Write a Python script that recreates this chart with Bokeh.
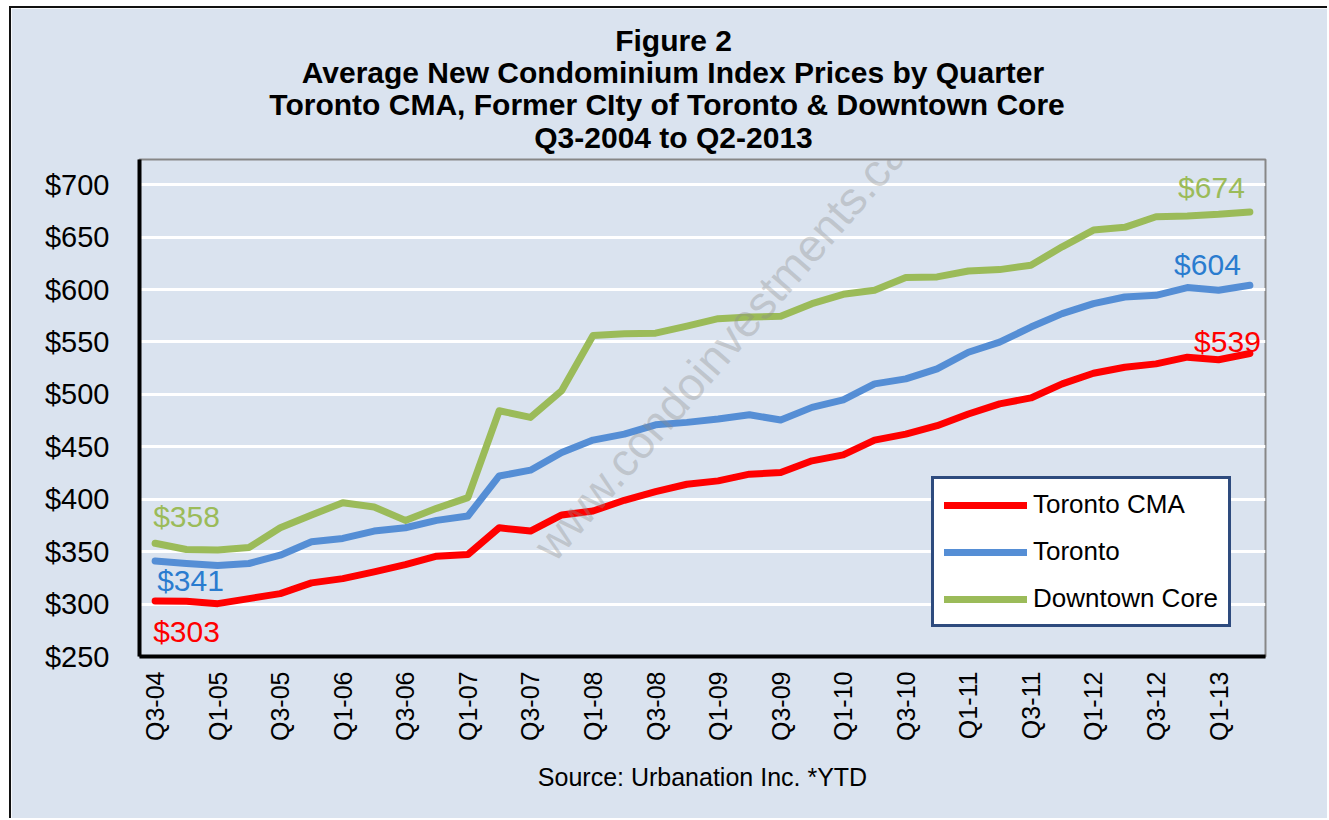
import math
from bokeh.plotting import figure
from bokeh.models import (Range1d, FixedTicker, PrintfTickFormatter, Label, Legend,
                          LegendItem, ColumnDataSource, Title)
from bokeh.core.properties import value
from bokeh.embed import file_html
from bokeh.resources import INLINE

# ---------------- data ----------------
quarters = ["Q3-04", "Q4-04", "Q1-05", "Q2-05", "Q3-05", "Q4-05", "Q1-06", "Q2-06",
            "Q3-06", "Q4-06", "Q1-07", "Q2-07", "Q3-07", "Q4-07", "Q1-08", "Q2-08",
            "Q3-08", "Q4-08", "Q1-09", "Q2-09", "Q3-09", "Q4-09", "Q1-10", "Q2-10",
            "Q3-10", "Q4-10", "Q1-11", "Q2-11", "Q3-11", "Q4-11", "Q1-12", "Q2-12",
            "Q3-12", "Q4-12", "Q1-13", "Q2-13"]

toronto_cma = [303, 302.6, 300.4, 305.2, 310.0, 320.2, 324.3, 330.7, 337.7, 345.7,
               347.3, 372.8, 369.6, 385.0, 388.8, 399.0, 407.2, 414.3, 417.5, 423.9,
               425.4, 436.6, 442.3, 456.4, 462.1, 470.1, 481.3, 490.9, 496.6, 510.0,
               520.1, 525.9, 529.1, 535.5, 533.0, 539]

toronto = [341, 338.7, 336.8, 338.7, 346.6, 359.4, 362.6, 369.6, 372.8, 379.8,
           384.0, 422.2, 427.7, 444.6, 456.4, 462.1, 471.0, 473.3, 476.5, 480.6,
           475.5, 487.6, 494.7, 510.0, 514.8, 524.3, 540.2, 549.8, 564.2, 577.0,
           586.5, 592.9, 594.5, 601.9, 599.3, 604]

downtown_core = [358, 352.0, 351.5, 354.0, 372.8, 385.0, 396.7, 392.6, 379.8, 391.3,
                 401.5, 484.4, 478.0, 503.6, 556.2, 557.8, 558.4, 565.1, 572.2, 573.7,
                 574.4, 586.5, 595.4, 599.3, 611.4, 612.0, 617.7, 619.0, 623.2, 640.7,
                 656.7, 659.3, 669.4, 670.1, 671.7, 674]

series_names = ["Toronto CMA", "Toronto", "Downtown Core"]
y_ticks = [250, 300, 350, 400, 450, 500, 550, 600, 650, 700]

title_lines = ["Figure 2",
               "Average New Condominium Index Prices by Quarter",
               "Toronto CMA,  Former CIty of Toronto & Downtown Core",
               "Q3-2004 to Q2-2013"]
source_text = "Source: Urbanation Inc. *YTD"
watermark = "www.condoinvestments.ca"

# ---------------- styling ----------------
RED = "#FF0000"
BLUE = "#558ED5"
GREEN = "#9BBB59"
BLUE_TXT = "#2A7CCF"
BG = "#DAE3EF"
FONT = "Liberation Sans"
TITLE_PX = 30
# per-line standoffs, nearest-to-frame line first (tuned so lines sit 32px apart)
TITLE_STANDOFFS = [11, -15, 9, -15]

# Arial-bold advance widths (Liberation Sans is metric compatible), 1/1000 em
_BOLD_W = {" ": 278, ",": 278, "-": 333, "&": 722, "0": 556, "1": 556, "2": 556,
           "3": 556, "4": 556, "5": 556, "6": 556, "7": 556, "8": 556, "9": 556,
           "A": 722, "C": 722, "D": 722, "F": 611, "I": 278, "M": 833, "N": 722,
           "P": 667, "Q": 778, "T": 611, "a": 556, "b": 611, "c": 556, "d": 611,
           "e": 556, "f": 333, "g": 611, "i": 278, "m": 889, "n": 611, "o": 611,
           "r": 389, "s": 556, "t": 333, "u": 611, "v": 556, "w": 778, "x": 556,
           "y": 556}

def bold_width(s, px):
    return sum(_BOLD_W.get(ch, 600) for ch in s) / 1000.0 * px

X0, X1 = -0.5, len(quarters) - 0.5
Y0, Y1 = 250, 724

# canvas origin on the page (after css margin + border)
OX, OY = 11, 8
W, H = 1329 - OX, 820 - OY
# frame position on the page (page pixels)
FL, FR, FT, FB = 139, 1265, 159, 656
TITLE_CX = 673

def dx(px):
    return X0 + (px - FL) / (FR - FL) * (X1 - X0)

def dy(py):
    return Y0 + (FB - py) / (FB - FT) * (Y1 - Y0)

p = figure(width=W, height=H, x_range=Range1d(X0, X1), y_range=Range1d(Y0, Y1),
           output_backend="svg", toolbar_location=None,
           min_border_left=FL - OX, min_border_right=W - (FR - OX),
           min_border_top=FT - OY, min_border_bottom=H - (FB - OY),
           background_fill_color=BG, border_fill_color=BG,
           outline_line_color="#878787", outline_line_width=2)
p.title.text = ""
p.title.text_font_size = "1px"
p.title.standoff = 0
p.styles = {"border-top": "2px solid #111111", "border-left": "2px solid #111111",
            "margin-left": "9px", "margin-top": "6px"}

# axes
p.yaxis.ticker = FixedTicker(ticks=y_ticks)
p.yaxis.formatter = PrintfTickFormatter(format="$%d")
p.yaxis.axis_line_color = "black"
p.yaxis.axis_line_width = 4
p.yaxis.major_tick_line_color = None
p.yaxis.minor_tick_line_color = None
p.yaxis.major_label_text_font = FONT
p.yaxis.major_label_text_font_size = "29px"
p.yaxis.major_label_text_color = "black"
p.yaxis.major_label_standoff = 24

xt = list(range(0, len(quarters), 2))
p.xaxis.ticker = FixedTicker(ticks=xt)
p.xaxis.major_label_overrides = {i: quarters[i] for i in xt}
p.xaxis.major_label_orientation = math.pi / 2
p.xaxis.axis_line_color = "black"
p.xaxis.axis_line_width = 4
p.xaxis.major_tick_line_color = None
p.xaxis.minor_tick_line_color = None
p.xaxis.major_label_text_font = FONT
p.xaxis.major_label_text_font_size = "25px"
p.xaxis.major_label_text_color = "black"
p.xaxis.major_label_standoff = 9
p.xaxis.axis_label = source_text
p.xaxis.axis_label_text_font = FONT
p.xaxis.axis_label_text_font_style = "normal"
p.xaxis.axis_label_text_font_size = "25px"
p.xaxis.axis_label_text_color = "black"
p.xaxis.axis_label_standoff = 19

p.xgrid.grid_line_color = None
p.ygrid.grid_line_color = "white"
p.ygrid.grid_line_width = 3

# lines
x = list(range(len(quarters)))
renderers = []
for vals, col in zip([toronto_cma, toronto, downtown_core], [RED, BLUE, GREEN]):
    r = p.line(x, vals, line_color=col, line_width=7, line_join="round", line_cap="round")
    renderers.append(r)

# end-point data labels
first = 0
last = len(quarters) - 1
ends = [toronto_cma[first], toronto[first], downtown_core[first],
        toronto_cma[last], toronto[last], downtown_core[last]]
lab_src = ColumnDataSource(dict(
    x=[first, first, first, last, last, last],
    y=ends,
    text=["$%d" % round(v) for v in ends],
    color=[RED, BLUE_TXT, GREEN, RED, BLUE_TXT, GREEN],
    align=["left", "left", "left", "right", "right", "right"],
    xo=[-2, 2, -2, 11, -9, -5],
    yo=[31, 19, -27, -12, -21, -24],
))
p.text(x="x", y="y", text="text", text_color="color", text_align="align",
       x_offset="xo", y_offset="yo", text_baseline="middle",
       text_font=value(FONT), text_font_size="30px", source=lab_src)

# legend
legend = Legend(items=[LegendItem(label=n, renderers=[r]) for n, r in zip(series_names, renderers)],
                location=(931 - FL, FB - 627),
                background_fill_color="white", background_fill_alpha=1.0,
                border_line_color="#2E4B7E", border_line_width=3, border_line_alpha=1.0,
                label_text_font=FONT, label_text_font_size="26px", label_text_color="black",
                glyph_width=83, glyph_height=28, label_height=28, label_standoff=6,
                spacing=16, padding=10, margin=0)
p.add_layout(legend)

# titles (first added sits nearest to the frame); left-aligned with an offset so
# that each line is centred on the chart area like the original
for txt, so in zip(reversed(title_lines), TITLE_STANDOFFS):
    off = TITLE_CX - bold_width(txt, TITLE_PX) / 2.0 - FL
    p.add_layout(Title(text=txt, align="left", offset=off, standoff=so,
                       text_font=FONT, text_font_style="bold",
                       text_font_size="%dpx" % TITLE_PX, text_color="black"), "above")

# watermark
p.add_layout(Label(x=dx(720), y=dy(348), text=watermark, angle=0.855,
                   text_align="center", text_baseline="middle", text_font=FONT,
                   text_font_size="46px", text_color="#8C8C8C", text_alpha=0.35))

open("out.html", "w").write(file_html(p, INLINE))
